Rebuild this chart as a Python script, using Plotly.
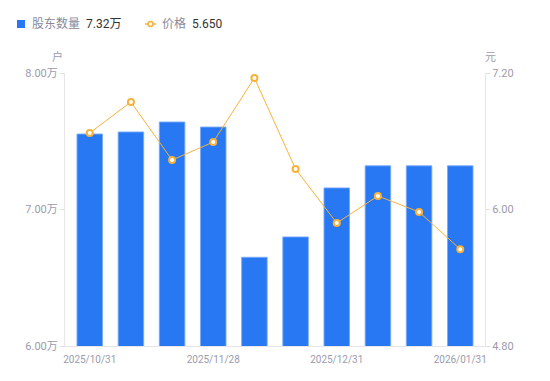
import plotly.graph_objects as go

dates = ["2025/10/31", "2025/11/10", "2025/11/20", "2025/11/28", "2025/12/10",
         "2025/12/20", "2025/12/31", "2026/01/09", "2026/01/20", "2026/01/31"]
shareholders = [75530, 75680, 76410, 76040, 66500, 67990, 71580, 73200, 73200, 73200]
price = [6.673, 6.945, 6.435, 6.593, 7.156, 6.356, 5.881, 6.119, 5.978, 5.650]

left_ticks = [60000, 70000, 80000]
left_tick_text = ["6.00万", "7.00万", "8.00万"]
right_ticks = [4.8, 6.0, 7.2]
right_tick_text = ["4.80", "6.00", "7.20"]
x_tick_vals = [dates[0], dates[3], dates[6], dates[9]]

BLUE = "#2778f2"
ORANGE = "#f7b23b"
GRAY = "#9b9bab"
FONT = "Roboto, 'Noto Sans CJK SC', sans-serif"

fig = go.Figure()
fig.add_trace(go.Bar(
    x=dates, y=shareholders, name="股东数量",
    marker=dict(color=BLUE, line=dict(color="rgba(120,170,250,0.9)", width=1)),
    yaxis="y", showlegend=False,
))
fig.add_trace(go.Scatter(
    x=dates, y=price, name="价格", mode="lines+markers",
    line=dict(color=ORANGE, width=1),
    marker=dict(symbol="circle", size=6, color="white", line=dict(color=ORANGE, width=2)),
    yaxis="y2", showlegend=False,
))

fig.update_layout(
    width=550, height=381,
    margin=dict(l=65, r=65, t=73, b=35),
    paper_bgcolor="white", plot_bgcolor="white",
    font=dict(family=FONT, size=10, color=GRAY),
    bargap=0.38,
    xaxis=dict(
        type="category", tickmode="array", tickvals=x_tick_vals, ticktext=x_tick_vals,
        showgrid=False, showline=True, linecolor="#e6e6e6", linewidth=1,
        ticks="", ticklabelstandoff=4, tickfont=dict(size=10, color=GRAY), zeroline=False,
    ),
    yaxis=dict(
        range=[60000, 80000], tickvals=left_ticks, ticktext=left_tick_text,
        showgrid=False, showline=True, linecolor="#e6e6e6", linewidth=1,
        ticks="outside", ticklen=4, tickcolor="#e0e0e0",
        tickfont=dict(size=11, color=GRAY), zeroline=False,
    ),
    yaxis2=dict(
        range=[4.8, 7.2], tickvals=right_ticks, ticktext=right_tick_text,
        overlaying="y", side="right",
        showgrid=False, showline=True, linecolor="#e6e6e6", linewidth=1,
        ticks="outside", ticklen=4, tickcolor="#e0e0e0",
        tickfont=dict(size=11, color=GRAY), zeroline=False,
    ),
)

# axis unit labels
fig.add_annotation(text="户", xref="paper", yref="paper", x=0, y=1, xshift=-8, yshift=16,
                   showarrow=False, font=dict(size=11, color=GRAY), xanchor="center", yanchor="middle")
fig.add_annotation(text="元", xref="paper", yref="paper", x=1, y=1, xshift=5, yshift=16,
                   showarrow=False, font=dict(size=11, color=GRAY), xanchor="center", yanchor="middle")

# custom legend
fig.add_shape(type="rect", xref="paper", yref="paper", x0=-48/420, x1=-40/420,
              y0=1 + 45/273, y1=1 + 53/273, fillcolor=BLUE, line=dict(width=0))
fig.add_annotation(text="股东数量", xref="paper", yref="paper", x=-35/420, y=1 + 49/273,
                   xanchor="left", yanchor="middle", showarrow=False,
                   font=dict(size=12, color="#8a8a9a"))
fig.add_annotation(text=f"{shareholders[-1]/10000:.2f}万", xref="paper", yref="paper",
                   x=19/420, y=1 + 49/273, xanchor="left", yanchor="middle", showarrow=False,
                   font=dict(size=12, color="#333333"))
fig.add_shape(type="line", xref="paper", yref="paper", x0=80/420, x1=91/420,
              y0=1 + 49/273, y1=1 + 49/273, line=dict(color=ORANGE, width=1.5))
fig.add_shape(type="circle", xref="paper", yref="paper", x0=83/420, x1=88/420,
              y0=1 + 46.5/273, y1=1 + 51.5/273, fillcolor="white", line=dict(color=ORANGE, width=1.5))
fig.add_annotation(text="价格", xref="paper", yref="paper", x=95/420, y=1 + 49/273,
                   xanchor="left", yanchor="middle", showarrow=False,
                   font=dict(size=12, color="#8a8a9a"))
fig.add_annotation(text=f"{price[-1]:.3f}", xref="paper", yref="paper",
                   x=125/420, y=1 + 49/273, xanchor="left", yanchor="middle", showarrow=False,
                   font=dict(size=12, color="#333333"))

fig.write_html("out.html", config={"displayModeBar": False},
               post_script="document.body.style.margin='0';document.body.style.padding='0';")
